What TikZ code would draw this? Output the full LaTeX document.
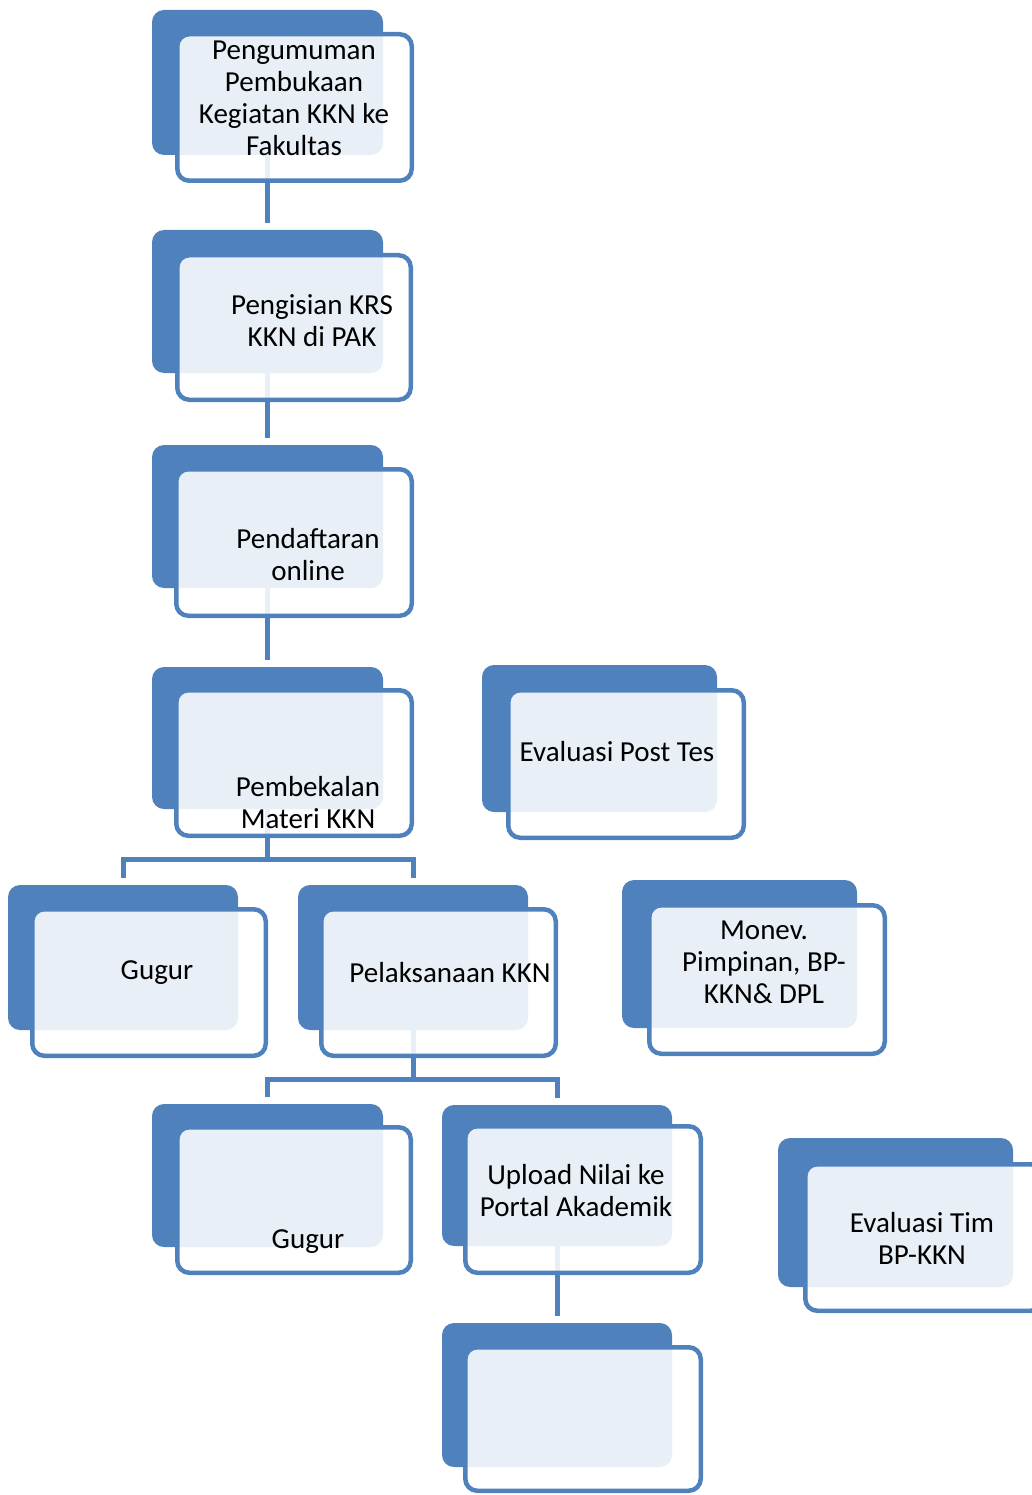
\documentclass[tikz,border=0pt]{standalone}
\usepackage{fontspec}
\setmainfont{Carlito}
\definecolor{kblue}{HTML}{4F81BD}
\pgfdeclarelayer{bg}
\pgfsetlayers{bg,main}
\tikzset{
  backbox/.style={draw=none, fill=kblue, rounded corners=12pt, inner sep=0pt, outer sep=0pt, anchor=north west},
  frontbox/.style={draw=kblue, line width=4.5pt, fill=white, fill opacity=0.88, rounded corners=12pt, inner sep=0pt, outer sep=0pt, anchor=north west},
  lbl/.style={align=center, inner sep=0pt, font=\fontsize{29}{32}\selectfont, text=black},
  conn/.style={draw=kblue, line width=5pt},
  gap/.style={shorten >=7pt}
}
% name, back x0,y0,x1,y1, front outer x0,y0,x1,y1
\newcommand\kkbox[9]{%
  \node[backbox, minimum width={(#4)-(#2)}, minimum height={(#5)-(#3)}] (#1b) at (#2,#3) {};
  \node[frontbox, minimum width={(#8)-(#6)-4.5}, minimum height={(#9)-(#7)-4.5}] (#1f) at (#6+2.25,#7+2.25) {};
}
\begin{document}
\begin{tikzpicture}[x=1pt,y=-1pt]
\useasboundingbox (0,0) rectangle (1032,1495);
\kkbox{a}{152}{10}{383}{155}{175}{32}{414}{183}
\kkbox{b}{152}{230}{383}{373}{175}{253}{413}{402}
\kkbox{c}{152}{445}{383}{588}{174}{467}{414}{618}
\kkbox{d}{152}{667}{383}{809}{174}{688}{414}{838}
\kkbox{e}{8}{885}{238}{1030}{30}{907}{268}{1058}
\kkbox{f}{298}{885}{528}{1030}{319}{907}{558}{1058}
\kkbox{g}{152}{1104}{383}{1247}{175}{1125}{413}{1275}
\kkbox{h}{442}{1105}{672}{1246}{463}{1124}{703}{1275}
\kkbox{i}{442}{1323}{672}{1467}{463}{1345}{703}{1493}
\kkbox{p}{482}{665}{717}{812}{506}{688}{746}{840}
\kkbox{m}{622}{880}{857}{1028}{647}{903}{887}{1056}
\kkbox{t}{778}{1138}{1013}{1287}{803}{1162}{1045}{1313}

\node[lbl] (ta) at (294,98) {Pengumuman\\Pembukaan\\Kegiatan KKN ke\\Fakultas};
\node[lbl] (tb) at (312,321) {Pengisian KRS\\KKN di PAK};
\node[lbl] (tc) at (308,555) {Pendaftaran\\online};
\node[lbl] (td) at (308,803) {Pembekalan\\Materi KKN};
\node[lbl] (te) at (157,973) {Gugur};
\node[lbl] (tf) at (450,973) {Pelaksanaan KKN};
\node[lbl] (tg) at (308,1242) {Gugur};
\node[lbl] (th) at (576,1191) {Upload Nilai ke\\Portal Akademik};
\node[lbl] (tp) at (617,752) {Evaluasi Post Tes};
\node[lbl] (tm) at (764,962) {Monev.\\Pimpinan, BP-\\KKN\& DPL};
\node[lbl] (tt) at (922,1238) {Evaluasi Tim\\BP-KKN};

\coordinate (j1) at (267.5,859);
\coordinate (j2) at (413,1079);
\begin{pgfonlayer}{bg}
  \draw[conn,gap] (ab) -- (bb.north);
  \draw[conn,gap] (bb) -- (cb.north);
  \draw[conn,gap] (cb) -- (db.north);
  \draw[conn] (db) -- (j1);
  \draw[conn,gap] (j1) -| (eb.north);
  \draw[conn,gap] (j1) -| (fb.north);
  \draw[conn] (fb) -- (j2);
  \draw[conn,gap] (j2) -| (gb.north);
  \draw[conn,gap] (j2) -| (hb.north);
  \draw[conn,gap] (hb) -- (ib.north);
\end{pgfonlayer}
\end{tikzpicture}
\end{document}
